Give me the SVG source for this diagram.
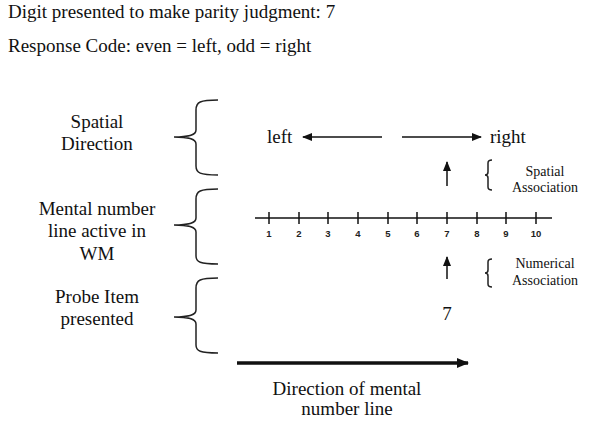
<svg xmlns="http://www.w3.org/2000/svg" width="593" height="424" viewBox="0 0 593 424">
<style>
.t{font-family:"Liberation Serif","Times New Roman",serif;font-size:19px;fill:#111}
.s{font-family:"Liberation Serif","Times New Roman",serif;font-size:14px;fill:#111}
.n{font-family:"Liberation Sans",Arial,sans-serif;font-size:9.5px;font-weight:bold;fill:#222}
.br{fill:none;stroke:#222;stroke-width:1.5}
.ln{stroke:#111;stroke-width:1.5;fill:none}
</style>
<defs>
<marker id="ah" markerWidth="10" markerHeight="8" refX="9" refY="4" orient="auto" markerUnits="userSpaceOnUse">
<path d="M0,0 L10,4 L0,8 Z" fill="#111"/>
</marker>
<marker id="ahb" markerWidth="12" markerHeight="10" refX="11" refY="5" orient="auto" markerUnits="userSpaceOnUse">
<path d="M0,0 L12,5 L0,10 Z" fill="#111"/>
</marker>
</defs>
<rect width="593" height="424" fill="#fff"/>
<g id="header">
<text class="t" x="8" y="18">Digit presented to make parity judgment: 7</text>
<text class="t" x="8" y="52">Response Code: even = left, odd = right</text>
</g>
<g id="label-spatial" text-anchor="middle">
<text class="t" x="97" y="128">Spatial</text>
<text class="t" x="97" y="150">Direction</text>
</g>
<g id="label-mental" text-anchor="middle">
<text class="t" x="97" y="215">Mental number</text>
<text class="t" x="97" y="237">line active in</text>
<text class="t" x="97" y="260">WM</text>
</g>
<g id="label-probe" text-anchor="middle">
<text class="t" x="97" y="303">Probe Item</text>
<text class="t" x="97" y="325">presented</text>
</g>
<g id="braces">
<path class="br" d="M218,100 C200,100 196,102 196,110 L196,130 C196,135 190,137 174,137 C190,137 196,139 196,144 L196,166 C196,173 200,175 218,175"/>
<path class="br" d="M218,189 C200,189 196,191 196,199 L196,218 C196,223 190,225 174,225 C190,225 196,227 196,232 L196,256 C196,262 200,264 218,264"/>
<path class="br" d="M218,278 C200,278 196,280 196,288 L196,310 C196,315 190,317 174,317 C190,317 196,319 196,324 L196,345 C196,351 200,353 218,353"/>
</g>
<g id="direction-arrows">
<text class="t" x="267" y="143">left</text>
<text class="t" x="490" y="143">right</text>
<line class="ln" x1="382" y1="137" x2="303" y2="137" marker-end="url(#ah)"/>
<line class="ln" x1="402" y1="137" x2="481" y2="137" marker-end="url(#ah)"/>
</g>
<g id="spatial-association">
<line class="ln" x1="447" y1="186" x2="447" y2="162" marker-end="url(#ah)"/>
<path class="br" stroke-width="1" d="M492,160 C489,160 488,161 488,163 L488,172 C488,174 487,175 485,175 C487,175 488,176 488,178 L488,187 C488,189 489,190 492,190"/>
<text class="s" x="545" y="176" text-anchor="middle">Spatial</text>
<text class="s" x="545" y="192" text-anchor="middle">Association</text>
</g>
<g id="number-line">
<line class="ln" x1="255" y1="218" x2="552" y2="218" stroke-width="2"/>
<g stroke="#111" stroke-width="1.5">
<line x1="269" y1="212" x2="269" y2="224"/>
<line x1="299" y1="212" x2="299" y2="224"/>
<line x1="328" y1="212" x2="328" y2="224"/>
<line x1="358" y1="212" x2="358" y2="224"/>
<line x1="388" y1="212" x2="388" y2="224"/>
<line x1="417" y1="212" x2="417" y2="224"/>
<line x1="447" y1="212" x2="447" y2="224"/>
<line x1="477" y1="212" x2="477" y2="224"/>
<line x1="506" y1="212" x2="506" y2="224"/>
<line x1="536" y1="212" x2="536" y2="224"/>
</g>
<g text-anchor="middle">
<text class="n" x="269" y="237">1</text>
<text class="n" x="299" y="237">2</text>
<text class="n" x="328" y="237">3</text>
<text class="n" x="358" y="237">4</text>
<text class="n" x="388" y="237">5</text>
<text class="n" x="417" y="237">6</text>
<text class="n" x="447" y="237">7</text>
<text class="n" x="477" y="237">8</text>
<text class="n" x="506" y="237">9</text>
<text class="n" x="536" y="237">10</text>
</g>
</g>
<g id="numerical-association">
<line class="ln" x1="447" y1="279" x2="447" y2="257" marker-end="url(#ah)"/>
<path class="br" stroke-width="1" d="M492,259 C489,259 488,260 488,262 L488,270 C488,272 487,273 485,273 C487,273 488,274 488,276 L488,284 C488,286 489,287 492,287"/>
<text class="s" x="545" y="268" text-anchor="middle">Numerical</text>
<text class="s" x="545" y="285" text-anchor="middle">Association</text>
</g>
<g id="probe">
<text class="t" x="447" y="320" text-anchor="middle">7</text>
</g>
<g id="direction-line">
<line x1="237" y1="363" x2="468" y2="363" stroke="#111" stroke-width="3.5" marker-end="url(#ahb)"/>
<text class="t" x="347" y="395" text-anchor="middle">Direction of mental</text>
<text class="t" x="347" y="415" text-anchor="middle">number line</text>
</g>
</svg>
